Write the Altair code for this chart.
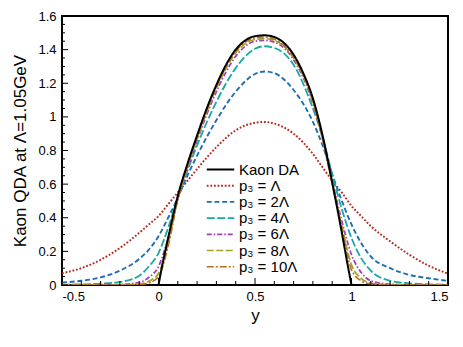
import altair as alt
import pandas as pd

# ---------------- data ----------------
series_names = ["Kaon DA", "p₃ = Λ", "p₃ = 2Λ", "p₃ = 4Λ", "p₃ = 6Λ", "p₃ = 8Λ", "p₃ = 10Λ"]
series_colors = ["#000000", "#b42a1e", "#1f6db5", "#1aa8a2", "#a43cb4", "#a2a220", "#b8701e"]
series_dashes = [[1, 0], [1.8, 1.8], [5, 2.7], [8, 2.5], [5, 2, 1.5, 2], [7, 2.5], [7, 2, 2, 2]]

da_x = [0, 0.02, 0.05, 0.1, 0.15, 0.2, 0.25, 0.3, 0.35, 0.4, 0.45, 0.5, 0.55, 0.6,
        0.65, 0.7, 0.75, 0.8, 0.85, 0.9, 0.95, 0.98, 1.0]
da_y = [0, 0.12, 0.28, 0.53, 0.72, 0.89, 1.05, 1.19, 1.31, 1.40, 1.455, 1.48, 1.485, 1.475,
        1.44, 1.37, 1.26, 1.11, 0.89, 0.61, 0.31, 0.12, 0]

grid_x = [-0.5, -0.4, -0.3, -0.2, -0.1, -0.05, 0, 0.05, 0.1, 0.15, 0.2, 0.3, 0.4, 0.5,
          0.55, 0.6, 0.7, 0.8, 0.85, 0.9, 0.95, 1.0, 1.05, 1.1, 1.2, 1.3, 1.4, 1.5]
p1_y = [0.07, 0.10, 0.15, 0.22, 0.31, 0.36, 0.41, 0.48, 0.55, 0.62, 0.69, 0.82, 0.92, 0.965,
        0.97, 0.96, 0.90, 0.78, 0.70, 0.62, 0.55, 0.47, 0.41, 0.35, 0.26, 0.18, 0.115, 0.067]
p2_y = [0.015, 0.025, 0.045, 0.085, 0.155, 0.21, 0.29, 0.40, 0.52, 0.65, 0.77, 0.98, 1.15, 1.255,
        1.27, 1.26, 1.16, 0.97, 0.83, 0.66, 0.50, 0.36, 0.25, 0.17, 0.10, 0.06, 0.04, 0.025]
p4_y = [0.002, 0.004, 0.008, 0.018, 0.055, 0.11, 0.19, 0.34, 0.52, 0.68, 0.83, 1.09, 1.29, 1.405,
        1.42, 1.41, 1.31, 1.05, 0.88, 0.66, 0.45, 0.28, 0.16, 0.085, 0.025, 0.01, 0.004, 0.002]
p6_y = [0, 0, 0.001, 0.003, 0.015, 0.045, 0.11, 0.28, 0.51, 0.69, 0.86, 1.15, 1.36, 1.45,
        1.455, 1.445, 1.34, 1.08, 0.87, 0.62, 0.38, 0.18, 0.075, 0.025, 0.005, 0.001, 0, 0]
p8_y = [0, 0, 0, 0.001, 0.006, 0.022, 0.07, 0.25, 0.51, 0.70, 0.87, 1.17, 1.38, 1.46,
        1.465, 1.455, 1.35, 1.09, 0.87, 0.61, 0.35, 0.12, 0.04, 0.012, 0.002, 0, 0, 0]
p10_y = [0, 0, 0, 0, 0.003, 0.012, 0.05, 0.23, 0.51, 0.71, 0.88, 1.18, 1.39, 1.47,
         1.475, 1.462, 1.355, 1.095, 0.87, 0.60, 0.34, 0.09, 0.025, 0.006, 0, 0, 0, 0]

y_major = [0, 0.2, 0.4, 0.6, 0.8, 1.0, 1.2, 1.4, 1.6]
y_minor = [0.05, 0.1, 0.15, 0.25, 0.3, 0.35, 0.45, 0.5, 0.55, 0.65, 0.7, 0.75, 0.85, 0.9, 0.95,
           1.05, 1.1, 1.15, 1.25, 1.3, 1.35, 1.45, 1.5, 1.55]
x_major = [-0.5, 0, 0.5, 1, 1.5]
x_minor = [-0.4, -0.3, -0.2, -0.1, 0.1, 0.2, 0.3, 0.4, 0.6, 0.7, 0.8, 0.9, 1.1, 1.2, 1.3, 1.4]

# ---------------- build table ----------------
rows = []
for nm, ys in zip(series_names[1:], [p1_y, p2_y, p4_y, p6_y, p8_y, p10_y]):
    for i, (x, y) in enumerate(zip(grid_x, ys)):
        rows.append({"series": nm, "x": x, "y": y, "o": i})
for i, (x, y) in enumerate(zip(da_x, da_y)):
    rows.append({"series": series_names[0], "x": x, "y": y, "o": i})
df = pd.DataFrame(rows)

W, H = 386, 269
FONT = "Liberation Sans"
xs = alt.Scale(domain=[-0.5, 1.5], nice=False, zero=False)
ys = alt.Scale(domain=[0, 1.6], nice=False, zero=False)

x_axis = alt.Axis(
    title="y", values=x_major, ticks=False, domain=False, grid=False, labelOverlap=False,
    labelExpr="replace(format(datum.value, '~g'), '\u2212', '-')",
    labelFontSize=13, labelPadding=5, titleFontSize=17, titleFontWeight="normal",
    titlePadding=4, labelFont=FONT, titleFont=FONT, labelColor="black", titleColor="black")
y_axis = alt.Axis(
    title="Kaon QDA at Λ=1.05GeV", values=y_major, ticks=False, domain=False, grid=False,
    labelOverlap=False, format="~g", labelFontSize=13, labelPadding=6, titleFontSize=17,
    titleFontWeight="normal", titlePadding=8, labelFont=FONT, titleFont=FONT,
    labelColor="black", titleColor="black")

lines = alt.Chart(df).mark_line(interpolate="monotone", clip=True).encode(
    x=alt.X("x:Q", scale=xs, axis=x_axis),
    y=alt.Y("y:Q", scale=ys, axis=y_axis),
    color=alt.Color("series:N", scale=alt.Scale(domain=series_names, range=series_colors),
                    legend=alt.Legend(title=None)),
    strokeDash=alt.StrokeDash("series:N", scale=alt.Scale(domain=series_names, range=series_dashes),
                              legend=alt.Legend(title=None)),
    strokeWidth=alt.StrokeWidth("series:N", scale=alt.Scale(domain=series_names,
                                range=[2, 1.6, 1.6, 1.6, 1.6, 1.6, 1.6]), legend=None),
    order="o:Q",
)

ymaj = alt.Chart(pd.DataFrame({"v": y_major})).mark_rule(color="black", strokeWidth=1).encode(
    y=alt.Y("v:Q", scale=ys, axis=y_axis), x=alt.value(0), x2=alt.value(6))
ymin = alt.Chart(pd.DataFrame({"v": y_minor})).mark_rule(color="black", strokeWidth=1).encode(
    y=alt.Y("v:Q", scale=ys, axis=y_axis), x=alt.value(0), x2=alt.value(3))
xmaj = alt.Chart(pd.DataFrame({"v": x_major})).mark_rule(color="black", strokeWidth=1).encode(
    x=alt.X("v:Q", scale=xs, axis=x_axis), y=alt.value(H), y2=alt.value(H - 7))
xmin = alt.Chart(pd.DataFrame({"v": x_minor})).mark_rule(color="black", strokeWidth=1).encode(
    x=alt.X("v:Q", scale=xs, axis=x_axis), y=alt.value(H), y2=alt.value(H - 4))

chart = alt.layer(lines, ymaj, ymin, xmaj, xmin).properties(
    width=W, height=H, autosize=alt.AutoSizeParams(type="none"),
    padding={"left": 54, "top": 8, "right": 7, "bottom": 55}
).configure_view(stroke="black", strokeWidth=2).configure_legend(
    orient="none", legendX=151, legendY=146, symbolType="M-2.5,0H2.5", symbolSize=121,
    symbolStrokeWidth=1.6, labelFontSize=15, labelFont=FONT, labelColor="black",
    rowPadding=0.2, labelOffset=11, padding=0
)

chart.save("out.html", embed_options={"renderer": "svg", "actions": False})
